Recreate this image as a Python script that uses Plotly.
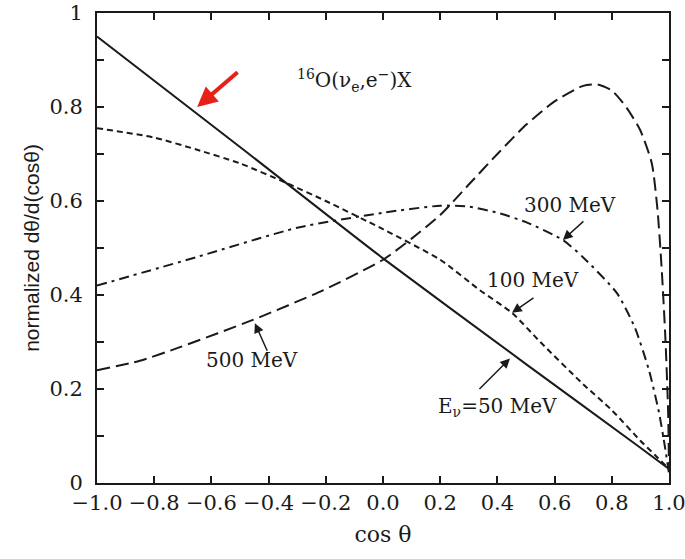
import plotly.graph_objects as go

# ---- data ----
x50 = [-1.0, -0.5, 0.0, 0.5, 0.9, 1.0]
y50 = [0.95, 0.715, 0.478, 0.253, 0.075, 0.03]

x100 = [-1.0, -0.8, -0.65, -0.5, -0.336, -0.2, 0.0, 0.2, 0.339, 0.451, 0.55, 0.7, 0.8, 0.9, 0.95, 1.0]
y100 = [0.755, 0.735, 0.709, 0.68, 0.638, 0.60, 0.54, 0.475, 0.41, 0.362, 0.30, 0.21, 0.155, 0.09, 0.06, 0.03]

x300 = [-1.0, -0.65, -0.3, 0.0, 0.2, 0.3, 0.4, 0.5, 0.629, 0.7, 0.818, 0.881, 0.93, 0.965, 0.985, 1.0]
y300 = [0.42, 0.481, 0.543, 0.575, 0.59, 0.588, 0.575, 0.555, 0.517, 0.48, 0.404, 0.33, 0.24, 0.15, 0.08, 0.02]

x500 = [-1.0, -0.85, -0.71, -0.455, -0.21, 0.0, 0.1, 0.2, 0.3, 0.4, 0.5, 0.6, 0.7, 0.75, 0.8, 0.85, 0.9, 0.94, 0.96, 0.975, 0.988, 0.997, 1.0]
y500 = [0.24, 0.26, 0.289, 0.347, 0.41, 0.475, 0.52, 0.57, 0.635, 0.70, 0.762, 0.812, 0.845, 0.848, 0.835, 0.80, 0.75, 0.68, 0.58, 0.45, 0.30, 0.15, 0.03]

xtick_vals = [-1.0, -0.8, -0.6, -0.4, -0.2, 0.0, 0.2, 0.4, 0.6, 0.8, 1.0]
xtick_text = ["\u22121.0", "\u22120.8", "\u22120.6", "\u22120.4", "\u22120.2", "0.0", "0.2", "0.4", "0.6", "0.8", "1.0"]
ytick_vals = [0, 0.2, 0.4, 0.6, 0.8, 1.0]
ytick_text = ["0", "0.2", "0.4", "0.6", "0.8", "1"]

SERIF = "DejaVu Serif"
INK = "#1a1a1a"

fig = go.Figure()
fig.add_trace(go.Scatter(x=x50, y=y50, mode="lines", line=dict(color=INK, width=2, dash="solid", shape="spline", smoothing=0.6)))
fig.add_trace(go.Scatter(x=x100, y=y100, mode="lines", line=dict(color=INK, width=2, dash="6px,4px", shape="spline", smoothing=0.6)))
fig.add_trace(go.Scatter(x=x300, y=y300, mode="lines", line=dict(color=INK, width=2, dash="10px,5px,3px,5px", shape="spline", smoothing=0.6)))
fig.add_trace(go.Scatter(x=x500, y=y500, mode="lines", line=dict(color=INK, width=2, dash="13px,6px", shape="spline", smoothing=0.6)))

axis_common = dict(showgrid=False, zeroline=False, showline=True, linecolor=INK, linewidth=2,
                   mirror="allticks", ticks="inside", ticklen=7, tickwidth=1.5, tickcolor=INK,
                   tickfont=dict(family=SERIF, size=21, color=INK), ticklabeloverflow="allow",
                   automargin=False)

fig.update_xaxes(range=[-1, 1], tickvals=xtick_vals, ticktext=xtick_text,
                 title=dict(text="cos \u03b8", font=dict(family=SERIF, size=22, color=INK), standoff=12),
                 **axis_common)
fig.update_yaxes(range=[0, 1], tickvals=ytick_vals, ticktext=ytick_text,
                 minor=dict(dtick=0.1, tick0=0, ticks="inside", ticklen=7, tickcolor=INK, tickwidth=1.5),
                 title=dict(text="normalized d\u03b8/d(cos\u03b8)", font=dict(family="Liberation Sans", size=21, color=INK), standoff=4),
                 ticklabelstandoff=8,
                 **axis_common)

txtfont = dict(family=SERIF, size=20, color=INK)
labels = [
    (0.654, 0.591, "300 MeV"),
    (0.524, 0.432, "100 MeV"),
    (0.402, 0.162, "E<sub>\u03bd</sub>=50 MeV"),
    (-0.458, 0.262, "500 MeV"),
    (-0.098, 0.857, "<sup>16</sup>O(\u03bd<sub>e</sub>,e<sup>\u2212</sup>)X"),
]
for lx, ly, t in labels:
    fig.add_annotation(x=lx, y=ly, text=t, showarrow=False, font=txtfont)

arrows = [
    (0.629, 0.517, 22, -20, INK, 1.5),
    (0.451, 0.362, 23, -16, INK, 1.5),
    (0.444, 0.265, -32, 32, INK, 1.5),
    (-0.448, 0.340, 13, 29, INK, 1.5),
]
for hx, hy, axp, ayp, c, w in arrows:
    fig.add_annotation(x=hx, y=hy, ax=axp, ay=ayp, text="", showarrow=True,
                       arrowhead=2, arrowsize=1.3, arrowwidth=w, arrowcolor=c)
fig.add_annotation(x=-0.650, y=0.800, ax=42, ay=-36, text="", showarrow=True,
                   arrowhead=2, arrowsize=1.0, arrowwidth=4, arrowcolor="#e8201a")

fig.update_layout(width=685, height=559, showlegend=False,
                  margin=dict(l=97, r=16, t=13, b=76),
                  plot_bgcolor="white", paper_bgcolor="white")

fig.write_html("out.html")
